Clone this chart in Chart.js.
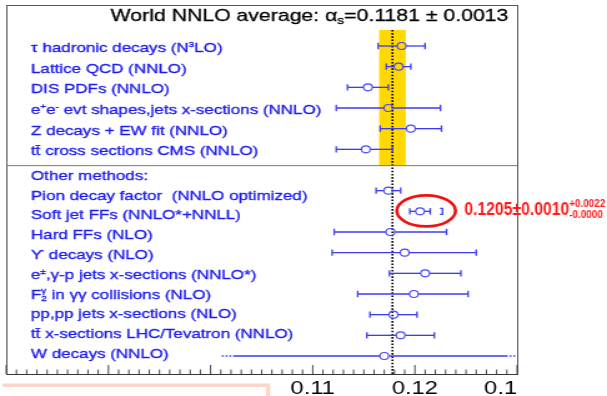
<!DOCTYPE html>
<html>
<head>
<meta charset="utf-8">
<style>
  html, body { margin: 0; padding: 0; background: #fff; overflow: hidden; }
</style>
<script src="https://cdn.jsdelivr.net/npm/chart.js@4.4.0/dist/chart.umd.min.js"></script>
</head>
<body>
<!-- drawn at 486px wide and stretched to 607px, like the stretched original figure -->
<canvas id="chart" width="486" height="396" style="display:block;width:607px;height:396px"></canvas>
<script>
// Rows, top to bottom ('^{}' superscript, '_{}' subscript, '%{sub}{sup}' stacked)
const rowLabels = [
    'τ hadronic decays (N^{3}LO)',
    'Lattice QCD (NNLO)',
    'DIS PDFs (NNLO)',
    'e^{+}e^{-} evt shapes,jets x-sections (NNLO)',
    'Z decays + EW fit (NNLO)',
    'tt̄ cross sections CMS (NNLO)',
    'Other methods:',
    'Pion decay factor  (NNLO optimized)',
    'Soft jet FFs (NNLO*+NNLL)',
    'Hard FFs (NLO)',
    'ϒ decays (NLO)',
    'e^{±},γ-p jets x-sections (NNLO*)',
    'F%{2}{γ} in γγ collisions (NLO)',
    'pp,pp jets x-sections (NLO)',
    'tt̄ x-sections LHC/Tevatron (NNLO)',
    'W decays (NNLO)'
];

// alpha_s central values and error bar ends
const centers = [0.1187, 0.1184, 0.1154, 0.1174, 0.1196, 0.1152, null,
                 0.1174, 0.1205, 0.1176, 0.1190, 0.1210, 0.1199, 0.1179, 0.1186, 0.1170];
const errLow  = [0.1164, 0.1172, 0.1134, 0.1123, 0.1166, 0.1123, null,
                 0.1162, 0.1195, 0.1121, 0.1119, 0.1175, 0.1144, 0.1156, 0.1153, 0.1011];
const errHigh = [0.1210, 0.1196, 0.1174, 0.1225, 0.1226, 0.1178, null,
                 0.1186, 0.1215, 0.1231, 0.1260, 0.1245, 0.1252, 0.1202, 0.1219, 0.1330];
// extra systematic bracket (soft jet FFs only)
const sysHigh = [null, null, null, null, null, null, null,
                 null, 0.1227, null, null, null, null, null, null, null];

const worldAvg = 0.1178;
const worldErr = 0.0013;
const titleText = 'World NNLO average: α_{s}=0.1181 ± 0.0013';
const noteText = '0.1205±0.0010%{-0.0000}{+0.0022}';

const xMin = 0.08, xMax = 0.13, minorStep = 0.001;
const tickValues = [0.11, 0.12, 0.13];
const tickLabels = ['0.11', '0.12', '0.1'];

const FONT = '"Liberation Sans", Arial, Helvetica, sans-serif';
const TEXT_BLUE = '#1c1cee';
const BAR_BLUE = '#3b3bf4';

// tiny rich-text renderer for super/subscripts
function parseRich(text) {
    const parts = [];
    const re = /\^\{([^}]*)\}|_\{([^}]*)\}|%\{([^}]*)\}\{([^}]*)\}/g;
    let last = 0, m;
    while ((m = re.exec(text))) {
        if (m.index > last) parts.push({ k: 'n', t: text.slice(last, m.index) });
        if (m[1] !== undefined) parts.push({ k: 'sup', t: m[1] });
        else if (m[2] !== undefined) parts.push({ k: 'sub', t: m[2] });
        else parts.push({ k: 'both', sub: m[3], sup: m[4] });
        last = re.lastIndex;
    }
    if (last < text.length) parts.push({ k: 'n', t: text.slice(last) });
    return parts;
}

function drawRich(ctx, text, x, baseline, size, weight, color, measureOnly, heavy) {
    const big = `${weight} ${size}px ${FONT}`;
    const small = `${weight} ${Math.round(size * 0.62)}px ${FONT}`;
    let cx = x;
    ctx.fillStyle = color;
    ctx.strokeStyle = color;
    ctx.lineWidth = heavy || 0;
    ctx.textAlign = 'left';
    ctx.textBaseline = 'alphabetic';
    const put = (s, px, py) => {
        if (measureOnly) return;
        ctx.fillText(s, px, py);
        if (heavy) ctx.strokeText(s, px, py);
    };
    parseRich(text).forEach(p => {
        if (p.k === 'n') {
            ctx.font = big;
            put(p.t, cx, baseline);
            cx += ctx.measureText(p.t).width;
        } else if (p.k === 'sup' || p.k === 'sub') {
            ctx.font = small;
            const dy = p.k === 'sup' ? -size * 0.38 : size * 0.2;
            put(p.t, cx, baseline + dy);
            cx += ctx.measureText(p.t).width;
        } else {
            ctx.font = small;
            put(p.sup, cx, baseline - size * 0.42);
            put(p.sub, cx, baseline + size * 0.2);
            cx += Math.max(ctx.measureText(p.sup).width, ctx.measureText(p.sub).width);
        }
    });
    return cx - x;
}

function isTick(v, list) {
    return list.findIndex(t => Math.abs(v - t) < 1e-7);
}

const decorPlugin = {
    id: 'decor',
    beforeDatasetsDraw(chart) {
        const { ctx, chartArea: a, scales: { x, y } } = chart;
        const bandTop = y.getPixelForValue(-0.78);
        const sepY = y.getPixelForValue(5.79);
        ctx.save();

        // world average band
        const bl = x.getPixelForValue(worldAvg - worldErr);
        const br = x.getPixelForValue(worldAvg + worldErr);
        ctx.fillStyle = '#ffd800';
        ctx.fillRect(bl, bandTop, br - bl, sepY - bandTop);

        // dotted world average line
        const xa = x.getPixelForValue(worldAvg);
        ctx.strokeStyle = '#000';
        ctx.lineWidth = 1.6;
        ctx.setLineDash([1.6, 1.6]);
        ctx.beginPath();
        ctx.moveTo(xa, bandTop);
        ctx.lineTo(xa, a.bottom);
        ctx.stroke();
        ctx.setLineDash([]);

        // error bars
        const r = 3.5, cap = 3.2;
        ctx.strokeStyle = BAR_BLUE;
        ctx.lineWidth = 1.3;
        const seg = (x0, x1, yy) => {
            if (x1 <= x0) return;
            ctx.beginPath(); ctx.moveTo(x0, yy); ctx.lineTo(x1, yy); ctx.stroke();
        };
        const vline = (xx, yy, h) => {
            ctx.beginPath(); ctx.moveTo(xx, yy - h); ctx.lineTo(xx, yy + h); ctx.stroke();
        };
        centers.forEach((c, i) => {
            if (c === null) return;
            const yy = y.getPixelForValue(i);
            const xc = x.getPixelForValue(c);
            const xl = x.getPixelForValue(errLow[i]);
            const open = errHigh[i] > x.max;
            const xh = Math.min(x.getPixelForValue(errHigh[i]), a.right);
            if (open) {
                // bar runs off the plot: dotted ends, no caps
                seg(xl + 9, xc - r, yy);
                seg(xc + r, xh - 9, yy);
                ctx.setLineDash([1.5, 1.5]);
                seg(xl, xl + 9, yy);
                seg(xh - 9, xh, yy);
                ctx.setLineDash([]);
            } else {
                seg(xl, xc - r, yy);
                seg(xc + r, xh, yy);
                vline(xl, yy, cap);
                vline(xh, yy, cap);
            }
            if (sysHigh[i] !== null) {
                const xs = x.getPixelForValue(sysHigh[i]);
                ctx.beginPath();
                ctx.moveTo(xs - 2, yy - 3);
                ctx.lineTo(xs, yy - 3);
                ctx.lineTo(xs, yy + 3);
                ctx.lineTo(xs - 2, yy + 3);
                ctx.stroke();
            }
        });
        ctx.restore();
    },
    afterDraw(chart) {
        const { ctx, chartArea: a, scales: { x, y } } = chart;
        ctx.save();

        // frame and section separator
        ctx.strokeStyle = '#555';
        ctx.lineWidth = 1;
        ctx.strokeRect(a.left + 0.5, a.top + 0.5, a.right - a.left, a.bottom - a.top);
        const sepY = y.getPixelForValue(5.79);
        ctx.strokeStyle = '#777';
        ctx.beginPath();
        ctx.moveTo(a.left, sepY); ctx.lineTo(a.right, sepY);
        ctx.stroke();

        // axis ticks pointing into the plot
        ctx.strokeStyle = '#333';
        ctx.lineWidth = 0.9;
        x.ticks.forEach(t => {
            const px = x.getPixelForValue(t.value);
            const major = Math.abs(t.value * 100 - Math.round(t.value * 100)) < 1e-6;
            const len = major ? 9 : 4.5;
            ctx.beginPath();
            ctx.moveTo(px, a.bottom);
            ctx.lineTo(px, a.bottom - len);
            ctx.stroke();
        });
        ctx.beginPath();
        ctx.moveTo(a.left, a.bottom + 0.5); ctx.lineTo(a.right, a.bottom + 0.5);
        ctx.stroke();

        // row labels: upper block sits on the marker rows, lower block on a
        // slightly tighter pitch, as in the original figure
        const lowerStart = y.getPixelForValue(7) + 4;
        rowLabels.forEach((lab, i) => {
            const yy = i < 6 ? y.getPixelForValue(i) + 1 : lowerStart + (i - 7) * 19.8;
            drawRich(ctx, lab, a.left + 19.8, yy + 4.9, 13.6, 'normal', TEXT_BLUE, false, 0.35);
        });

        // title, right-aligned in the frame
        const tw = drawRich(ctx, titleText, 0, 0, 17, 'normal', '#000', true);
        drawRich(ctx, titleText, a.right - 7 - tw, 20.6, 17, 'normal', '#000', false, 0.3);

        // highlighted soft-jet result
        const iSoft = sysHigh.findIndex(v => v !== null);
        const ys = y.getPixelForValue(iSoft);
        const ex = (x.getPixelForValue(errLow[iSoft]) + x.getPixelForValue(sysHigh[iSoft])) / 2;
        ctx.strokeStyle = '#ee1111';
        ctx.lineWidth = 2.6;
        ctx.beginPath();
        ctx.ellipse(ex, ys - 0.5, 23.5, 15.5, 0, 0, Math.PI * 2);
        ctx.stroke();

        ctx.save();
        ctx.translate(ex + 30.5, ys + 3.3);
        ctx.scale(0.72, 1);
        drawRich(ctx, noteText, 0, 0, 17.5, 'bold', '#ff1a1a');
        ctx.restore();

        // pale slide box peeking in at the bottom
        ctx.strokeStyle = '#fbd6ca';
        ctx.lineWidth = 3.5;
        ctx.beginPath();
        ctx.moveTo(2, 385.2);
        ctx.lineTo(214.6, 385.2);
        ctx.lineTo(214.6, 400);
        ctx.stroke();

        ctx.restore();
    }
};

const ctx = document.getElementById('chart').getContext('2d');
new Chart(ctx, {
    type: 'scatter',
    data: {
        datasets: [{
            label: 'alpha_s',
            data: centers.map((c, i) => ({ x: c, y: i })).filter(p => p.x !== null),
            pointRadius: 3.5,
            pointHoverRadius: 3.5,
            borderWidth: 1.1,
            borderColor: '#4646ff',
            backgroundColor: 'rgba(255,255,255,0)'
        }]
    },
    options: {
        responsive: false,
        animation: false,
        devicePixelRatio: 1,
        events: [],
        layout: { padding: { left: 5, right: 72, top: 5, bottom: 0 } },
        plugins: {
            legend: { display: false },
            tooltip: { enabled: false }
        },
        scales: {
            x: {
                type: 'linear',
                min: xMin,
                max: xMax,
                afterFit: scale => { scale.height = 22; },
                grid: { display: false, drawTicks: false },
                border: { display: false },
                ticks: {
                    stepSize: minorStep,
                    autoSkip: false,
                    maxRotation: 0,
                    minRotation: 0,
                    align: 'inner',
                    padding: 3,
                    color: '#000',
                    font: { family: FONT, size: 19 },
                    callback: value => {
                        const k = isTick(value, tickValues);
                        return k >= 0 ? tickLabels[k] : '';
                    }
                }
            },
            y: {
                type: 'linear',
                display: false,
                reverse: true,
                min: -1.984,
                max: 15.871
            }
        }
    },
    plugins: [decorPlugin]
});
</script>
</body>
</html>
